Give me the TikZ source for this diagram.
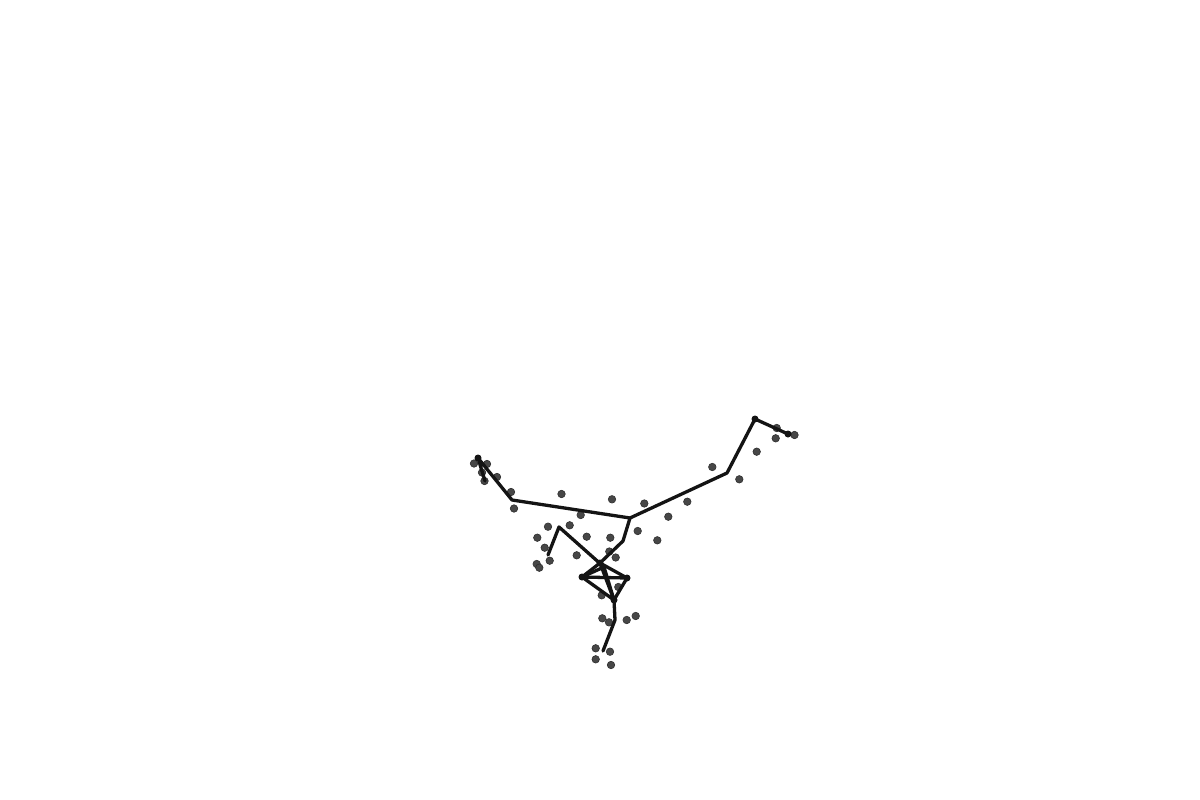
\documentclass[tikz,border=0pt]{standalone}
\begin{document}
\begin{tikzpicture}[x=1pt,y=-1pt,
  dot/.style={circle,fill=black!72,draw=black!82,line width=0.6pt,inner sep=0pt,minimum size=7.5pt},
  vtx/.style={circle,fill=black!92,inner sep=0pt,minimum size=7pt},
  pt/.style={circle,inner sep=0pt,minimum size=0pt},
  edge/.style={draw=black!92,line width=3.3pt,line cap=round,line join=round}]
\useasboundingbox[fill=white] (0,0) rectangle (1200,800);
% gray data points
\foreach \x/\y [count=\i] in {474/463.5,487/464,482/472.5,484.5/481,497/477,511/492,514/508.5,
  561.5/494,612/499.3,644.3/503.5,580.7/515,548/526.7,569.7/525.3,537.3/537.7,586.7/536.7,
  610.3/537.7,637.7/531,657.3/540.3,544.7/547.7,549.7/560.7,576.7/555.3,609.3/551.5,615.7/557.5,
  536.7/564,539.3/567.7,668.3/516.7,687.3/501.7,712.3/467,739.3/479.3,756.7/451.7,775.7/438.3,
  776.7/428,794.5/435,618.3/587,601.7/595.3,602.3/618.3,609/622.3,626.7/620,635.7/616,
  595.7/648.3,610/651.7,595.7/659.3,611/665}
  \node[dot] (d\i) at (\x,\y) {};
% path vertices
\node[vtx] (A) at (478,458) {};
\node[pt] (B) at (485,481) {};
\node[pt] (C) at (512,500) {};
\node[pt] (D) at (630,518) {};
\node[pt] (E) at (623,541) {};
\node[vtx] (F) at (600,563) {};
\node[pt] (G) at (727,473) {};
\node[vtx] (H) at (755,419) {};
\node[vtx] (I) at (788,434) {};
\node[vtx] (L) at (582,577) {};
\node[vtx] (R) at (627,578) {};
\node[vtx] (M) at (614,600) {};
\node[pt] (X) at (604,567) {};
\node[pt] (N) at (615,620) {};
\node[pt] (O) at (603,651) {};
\node[pt] (P) at (559,527) {};
\node[pt] (Q) at (548,555) {};
% connectors
\draw[edge] (B.center) -- (A.center) -- (C.center) -- (D.center) -- (G.center) -- (H.center) -- (I.center);
\draw[edge] (D.center) -- (E.center) -- (F.center);
\draw[edge] (Q.center) -- (P.center) -- (X.center) -- (M.center);
\draw[edge] (F.center) -- (L.center) -- (M.center) -- (R.center) -- (F.center) -- (M.center);
\draw[edge] (L.center) -- (R.center);
\draw[edge] (L.center) -- (X.center);
\draw[edge] (M.center) -- (N.center) -- (O.center);
\end{tikzpicture}
\end{document}
